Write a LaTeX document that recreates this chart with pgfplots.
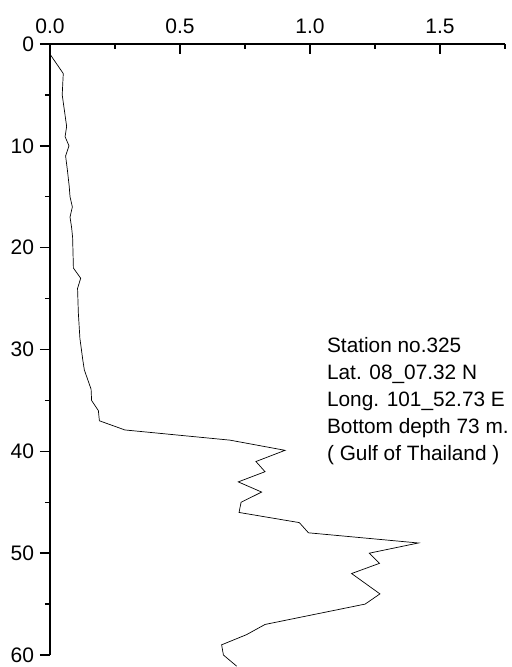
\documentclass[border=0pt]{standalone}
\usepackage{pgfplots}
\pgfplotsset{compat=1.18}
\usepackage{fontspec}
\setmainfont{Liberation Sans}
\usetikzlibrary{calc}
\begin{document}
\begin{tikzpicture}
\begin{axis}[
  scale only axis,
  width=455pt, height=611pt,
  xmin=0, xmax=1.75, ymin=0, ymax=60,
  y dir=reverse,
  axis x line*=top, axis y line*=left,
  axis line style={line width=1.4pt},
  clip=false,
  xtick={0,0.5,1,1.5}, minor xtick={0.25,0.75,1.25,1.75},
  ytick={0,10,20,30,40,50,60}, minor ytick={5,15,25,35,45,55},
  xtick align=inside, ytick align=outside,
  major tick length=10pt, minor tick length=5pt,
  tick style={line width=1.4pt, black},
  xticklabel style={/pgf/number format/fixed, /pgf/number format/fixed zerofill, /pgf/number format/precision=1, yshift=7pt},
  /pgf/number format/assume math mode=true,
  tick label style={font=\fontsize{21}{24}\selectfont},
  yticklabel style={xshift=-2.5pt},
]
\addplot[black, line width=0.7pt] coordinates {
(0,1) (0.051,2.9) (0.047,5) (0.058,7) (0.064,8.1) (0.058,9.1) (0.073,10)
(0.06,11) (0.067,12.4) (0.074,14) (0.077,15) (0.086,16) (0.077,17) (0.083,18)
(0.087,19) (0.09,22) (0.118,23) (0.106,24) (0.109,26.4) (0.115,28.9)
(0.126,31) (0.132,32) (0.158,33.9) (0.16,35) (0.186,36) (0.19,37)
(0.288,37.9) (0.692,38.9) (0.904,39.9) (0.792,41) (0.827,42) (0.724,43)
(0.814,44) (0.735,45) (0.727,46) (0.959,47) (0.994,48) (1.417,49)
(1.228,50) (1.267,51) (1.16,52) (1.269,54) (1.212,55) (0.827,57)
(0.756,58) (0.66,59) (0.667,60) (0.718,61.1)
};
\node[anchor=north west, align=left, inner sep=0pt, font=\fontsize{20.8}{27}\selectfont]
  at (axis cs:1.065,28.8) {Station no.325\\Lat. 08\_07.32 N\\Long. 101\_52.73 E\\Bottom depth 73 m.\\( Gulf of Thailand )};
\end{axis}
\path ($(current axis.north west)+(-50pt,44pt)$) rectangle ($(current axis.south west)+(461pt,-12pt)$);
\end{tikzpicture}
\end{document}
